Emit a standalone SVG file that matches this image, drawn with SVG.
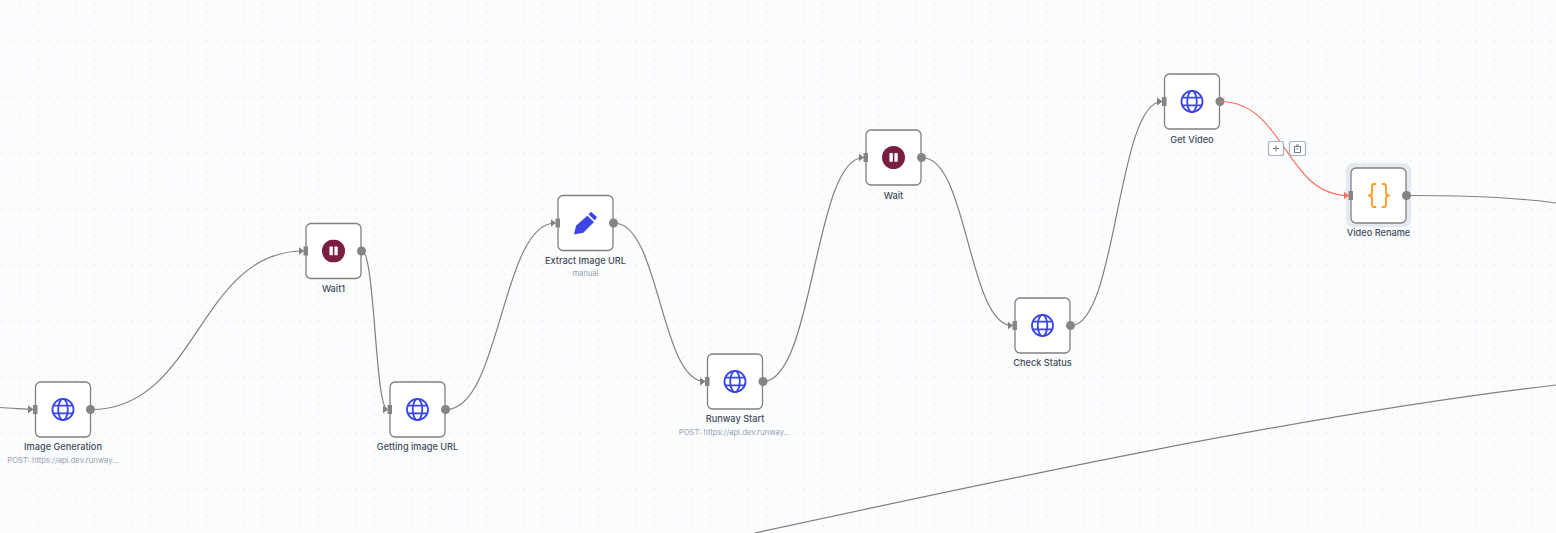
<svg xmlns="http://www.w3.org/2000/svg" width="1556" height="533" viewBox="0 0 1556 533">
<defs>
<pattern id="dots" x="0" y="0" width="9.33" height="9.33" patternUnits="userSpaceOnUse"><circle cx="1.9" cy="3.400" r=".55" fill="#d4d9e1"/></pattern>
<symbol id="globe" viewBox="0 0 24 24" overflow="visible"><g fill="none" stroke="#3b46e8" stroke-width="1.9"><circle cx="12" cy="12" r="11"/><ellipse cx="12" cy="12" rx="5" ry="11"/><path d="M2 8H22M2 16H22"/></g></symbol>
<symbol id="pause" viewBox="0 0 24 24"><circle cx="12" cy="12" r="12" fill="#7a1f42"/><rect x="7.800" y="7.300" width="3.500" height="9.200" rx=".7" fill="#fff"/><rect x="12.900" y="7.300" width="3.500" height="9.200" rx=".7" fill="#fff"/></symbol>
<marker id="arr" markerUnits="userSpaceOnUse" markerWidth="6" markerHeight="9" refX="5" refY="4.500" orient="auto"><path d="M0 .5L5.500 4.500L0 8.500Z" fill="#808080"/></marker>
<marker id="arr-red" markerUnits="userSpaceOnUse" markerWidth="6" markerHeight="9" refX="5" refY="4.500" orient="auto"><path d="M0 .5L5.500 4.500L0 8.500Z" fill="#ff6f5c"/></marker>
</defs>
<style>
.box{fill:#fff;stroke:#808080;stroke-width:1.300}
.out{fill:#858585}
.in{fill:#858585}
.name{font:500 9.200px Inter,"Liberation Sans",sans-serif;fill:#434c5a;text-anchor:middle}
.sub{font:400 7.650px Inter,"Liberation Sans",sans-serif;fill:#98a1b0;text-anchor:middle}
.edge{fill:none;stroke:#808080;stroke-width:1.200;marker-end:url(#arr)}
.edge2{fill:none;stroke:#808080;stroke-width:1.200}
.red{fill:none;stroke:#ff6f5c;stroke-width:1.200;marker-end:url(#arr-red)}
.act{fill:#fff;stroke:#a9afbb;stroke-width:1.200}
.brace{fill:none;stroke:#ff9a1f;stroke-width:1.800;stroke-linecap:round;stroke-linejoin:round}
</style>
<rect width="1556" height="533" fill="#fbfcfd"/>
<rect width="1556" height="533" fill="url(#dots)"/>
<g id="node-image-generation"><rect class="box" x="35.500" y="382" width="55" height="55" rx="5"/><rect class="in" x="33" y="405" width="4.500" height="9"/><circle class="out" cx="90.500" cy="409.500" r="4.500"/><use href="#globe" x="51.500" y="398" width="23" height="23"/><text class="name" x="63" y="450">Image Generation</text><text class="sub" x="63" y="463">POST: https://api.dev.runway...</text></g>
<g id="node-wait1"><rect class="box" x="306" y="223.500" width="55" height="55" rx="5"/><rect class="in" x="303.500" y="246.500" width="4.500" height="9"/><circle class="out" cx="361.500" cy="251" r="4.500"/><use href="#pause" x="322" y="239.500" width="23" height="23"/><text class="name" x="333.500" y="292">Wait1</text></g>
<g id="node-getting-image-url"><rect class="box" x="390" y="382" width="55" height="55" rx="5"/><rect class="in" x="387.500" y="405" width="4.500" height="9"/><circle class="out" cx="445.500" cy="409.500" r="4.500"/><use href="#globe" x="406" y="398" width="23" height="23"/><text class="name" x="417.500" y="450">Getting image URL</text></g>
<g id="node-extract-image-url"><rect class="box" x="558" y="195.500" width="55" height="55" rx="5"/><rect class="in" x="555.500" y="218.500" width="4.500" height="9"/><circle class="out" cx="613.500" cy="223" r="4.500"/><path d="M574 234.500L576 225.700L587.300 215.700L594 222L583.300 232.700ZM588.500 214.300L591 211.800L597 217L594.800 220.500Z" fill="#3e46e6"/><text class="name" x="585.500" y="264">Extract Image URL</text><text class="sub" x="585.500" y="276">manual</text></g>
<g id="node-runway-start"><rect class="box" x="707.500" y="354" width="55" height="55" rx="5"/><rect class="in" x="705" y="377" width="4.500" height="9"/><circle class="out" cx="763" cy="381.500" r="4.500"/><use href="#globe" x="723.500" y="370" width="23" height="23"/><text class="name" x="735" y="422">Runway Start</text><text class="sub" x="734.500" y="435">POST: https://api.dev.runway...</text></g>
<g id="node-wait"><rect class="box" x="866" y="130" width="55" height="55" rx="5"/><rect class="in" x="863.500" y="153" width="4.500" height="9"/><circle class="out" cx="921.500" cy="157.500" r="4.500"/><use href="#pause" x="882" y="146" width="23" height="23"/><text class="name" x="893.500" y="199">Wait</text></g>
<g id="node-check-status"><rect class="box" x="1015" y="298" width="55" height="55" rx="5"/><rect class="in" x="1012.500" y="321" width="4.500" height="9"/><circle class="out" cx="1070.500" cy="325.500" r="4.500"/><use href="#globe" x="1031" y="314" width="23" height="23"/><text class="name" x="1042.500" y="366">Check Status</text></g>
<g id="node-get-video"><rect class="box" x="1164.500" y="74" width="55" height="55" rx="5"/><rect class="in" x="1162" y="97" width="4.500" height="9"/><circle class="out" cx="1220" cy="101.500" r="4.500"/><use href="#globe" x="1180.500" y="90" width="23" height="23"/><text class="name" x="1192" y="143">Get Video</text></g>
<g id="node-video-rename"><rect x="1346" y="163" width="65" height="64" rx="7" fill="#e6e9f0"/><rect class="box" x="1351" y="168" width="55" height="55" rx="5"/><rect class="in" x="1348.500" y="191" width="4.500" height="9"/><circle class="out" cx="1406.500" cy="195.500" r="4.500"/><path class="brace" d="M1375.500 184H1374C1372.500 184 1372 185 1372 186.500V192.500C1372 194 1371 195.500 1369 195.500C1371 195.500 1372 197 1372 198.500V204.500C1372 206 1372.500 207 1374 207H1375.500M1382.500 184H1384C1385.500 184 1386 185 1386 186.500V192.500C1386 194 1387 195.500 1389 195.500C1387 195.500 1386 197 1386 198.500V204.500C1386 206 1385.500 207 1384 207H1382.500"/><text class="name" x="1378.500" y="236">Video Rename</text></g>
<g id="connectors">
<path class="edge" d="M0 407.500C12 408 22 409 33 409.500"/>
<path class="edge" d="M91 409.500C198 409.500 198 251 303.500 251"/>
<path class="edge" d="M362 251C375 251 375 409.500 387.500 409.500"/>
<path class="edge" d="M446 409.500C501 409.500 501 223 555.500 223"/>
<path class="edge" d="M614 223C660 223 660 381.500 705 381.500"/>
<path class="edge" d="M763 381.500C814 381.500 814 157.500 863.500 157.500"/>
<path class="edge" d="M922 157.500C968 157.500 968 325.500 1012.500 325.500"/>
<path class="edge" d="M1071 325.500C1117 325.500 1117 101.500 1162 101.500"/>
<path class="red" d="M1220 101.500C1285 101.500 1285 195.500 1348.500 195.500"/>
<path class="edge2" d="M1407 195.500C1460 195.500 1510 196.500 1556 203"/>
<path class="edge2" d="M755 533C1000 480 1300 415 1556 385"/>
</g>
<g id="edge-actions">
<rect class="act" x="1268.500" y="141.500" width="15" height="14" rx="2"/><path d="M1273 148.500H1279M1276 145.500V151.500" stroke="#6f7786" fill="none"/>
<rect class="act" x="1289.500" y="141.500" width="16" height="14" rx="2"/><path d="M1294.500 146.500H1300.500V152.500H1294.500ZM1296 145H1299M1296.500 149H1298.500" stroke="#6f7786" fill="none"/>
</g>
</svg>
